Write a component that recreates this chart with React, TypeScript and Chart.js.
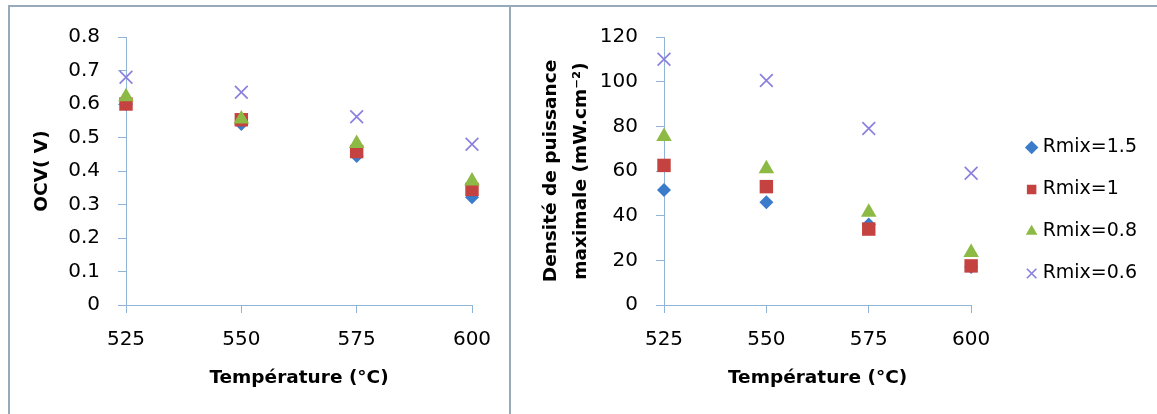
import React, { useEffect, useRef } from 'react';
import { Chart, registerables } from 'chart.js';

Chart.register(...registerables);

// ---- data ----
const temperatures = [525, 550, 575, 600];
const seriesLabels = ['Rmix=1.5', 'Rmix=1', 'Rmix=0.8', 'Rmix=0.6'];

const ocvR15 = [0.6, 0.54, 0.445, 0.322];
const ocvR1 = [0.6, 0.553, 0.458, 0.345];
const ocvR08 = [0.622, 0.555, 0.482, 0.37];
const ocvR06 = [0.68, 0.635, 0.562, 0.48];

const pdR15 = [51.5, 46, 36, 17];
const pdR1 = [62.5, 53, 34, 17.5];
const pdR08 = [75.5, 61, 41.5, 23.5];
const pdR06 = [110, 100.5, 79, 59];

const xTitle = 'Température (°C)';
const leftYTitle = 'OCV( V)';
const rightYTitle = ['Densité de puissance', 'maximale (mW.cm⁻²)'];

// ---- styles ----
const FONT = 'DejaVu Sans';
const AXIS_COLOR = '#8FB4D6';
const seriesStyles = [
  { pointStyle: 'rectRot', color: '#3A7CC9', radius: 7, border: 0 },
  { pointStyle: 'rect', color: '#C4423F', radius: 9.5, border: 0 },
  { pointStyle: 'triangle', color: '#8DBA45', radius: 9, border: 0 },
  { pointStyle: 'crossRot', color: '#8A80DE', radius: 9, border: 1.7 },
];

function makeDatasets(series: number[][]) {
  return series.map((vals, i) => {
    const s = seriesStyles[i];
    return {
      label: seriesLabels[i],
      data: temperatures.map((t, j) => ({ x: t, y: vals[j] })),
      pointStyle: s.pointStyle,
      pointRadius: s.radius,
      pointBackgroundColor: s.color,
      pointBorderColor: s.color,
      backgroundColor: s.color,
      borderColor: s.color,
      pointBorderWidth: s.border,
      borderWidth: s.border,
      showLine: false,
      clip: false,
      order: 10 - i,
    };
  });
}

function xScale() {
  return {
    type: 'linear',
    min: 525,
    max: 600,
    afterFit: (s: any) => { s.height = 85; },
    ticks: { stepSize: 25, color: '#000', padding: 15, font: { family: FONT, size: 20 } },
    grid: { display: true, drawOnChartArea: false, drawTicks: true, tickLength: 8, color: AXIS_COLOR },
    border: { color: AXIS_COLOR, width: 1 },
    title: {
      display: true,
      text: xTitle,
      color: '#000',
      font: { family: FONT, size: 18.5, weight: 'bold' },
      padding: { top: 0, bottom: 1 },
    },
  };
}

function yScale(max: number, step: number, width: number, title: any, lh: number, pt: number) {
  return {
    type: 'linear',
    min: 0,
    max,
    afterFit: (s: any) => { s.width = width; },
    ticks: { stepSize: step, color: '#000', padding: 18, font: { family: FONT, size: 20 } },
    grid: { display: true, drawOnChartArea: false, drawTicks: true, tickLength: 8, color: AXIS_COLOR },
    border: { color: AXIS_COLOR, width: 1 },
    title: {
      display: true,
      text: title,
      color: '#000',
      font: { family: FONT, size: 18.5, weight: 'bold', lineHeight: lh },
      padding: { top: pt, bottom: 0 },
    },
  };
}

function ScatterPanel(props: { width: number; height: number; config: any }) {
  const ref = useRef<HTMLCanvasElement | null>(null);
  useEffect(() => {
    if (!ref.current) return;
    const chart = new Chart(ref.current, props.config);
    return () => chart.destroy();
  }, []);
  return <canvas ref={ref} width={props.width} height={props.height} style={{ display: 'block' }} />;
}

const leftConfig = {
  type: 'scatter',
  data: { datasets: makeDatasets([ocvR15, ocvR1, ocvR08, ocvR06]) },
  options: {
    responsive: false,
    animation: false,
    events: [],
    layout: { padding: { left: 0, right: 37, top: 24, bottom: 24 } },
    plugins: { legend: { display: false }, tooltip: { enabled: false } },
    scales: {
      x: xScale(),
      y: yScale(0.8, 0.1, 116, leftYTitle, 1.2, 20.9),
    },
  },
};

const rightConfig = {
  type: 'scatter',
  data: { datasets: makeDatasets([pdR15, pdR1, pdR08, pdR06]) },
  options: {
    responsive: false,
    animation: false,
    events: [],
    layout: { padding: { left: 0, right: 10, top: 24, bottom: 24 } },
    plugins: {
      tooltip: { enabled: false },
      legend: {
        display: true,
        position: 'right',
        maxWidth: 200,
        labels: {
          usePointStyle: true,
          boxWidth: 3,
          boxHeight: 9.5,
          padding: 23,
          color: '#000',
          font: { family: FONT, size: 19 },
          sort: (a: any, b: any) => a.datasetIndex - b.datasetIndex,
        },
      },
    },
    scales: {
      x: xScale(),
      y: yScale(120, 20, 152, rightYTitle, 1.62, 24.7),
      gap: {
        type: 'linear',
        position: 'right',
        display: true,
        afterFit: (s: any) => { s.width = 36; },
        ticks: { display: false },
        grid: { display: false, drawTicks: false },
        border: { display: false },
        title: { display: false },
      },
    },
  },
};

export default function App() {
  const line = '#97AABB';
  return (
    <div style={{ position: 'absolute', left: 0, top: 0, width: 1157, height: 414, background: '#fff', overflow: 'hidden' }}>
      <div style={{ position: 'absolute', left: 8, top: 5, width: 1149, height: 2, background: line }} />
      <div style={{ position: 'absolute', left: 8, top: 5, width: 2, height: 409, background: line }} />
      <div style={{ position: 'absolute', left: 509, top: 5, width: 2, height: 409, background: line }} />
      <div style={{ position: 'absolute', left: 10, top: 7 }}>
        <ScatterPanel width={499} height={407} config={leftConfig} />
      </div>
      <div style={{ position: 'absolute', left: 512, top: 7 }}>
        <ScatterPanel width={645} height={407} config={rightConfig} />
      </div>
    </div>
  );
}
